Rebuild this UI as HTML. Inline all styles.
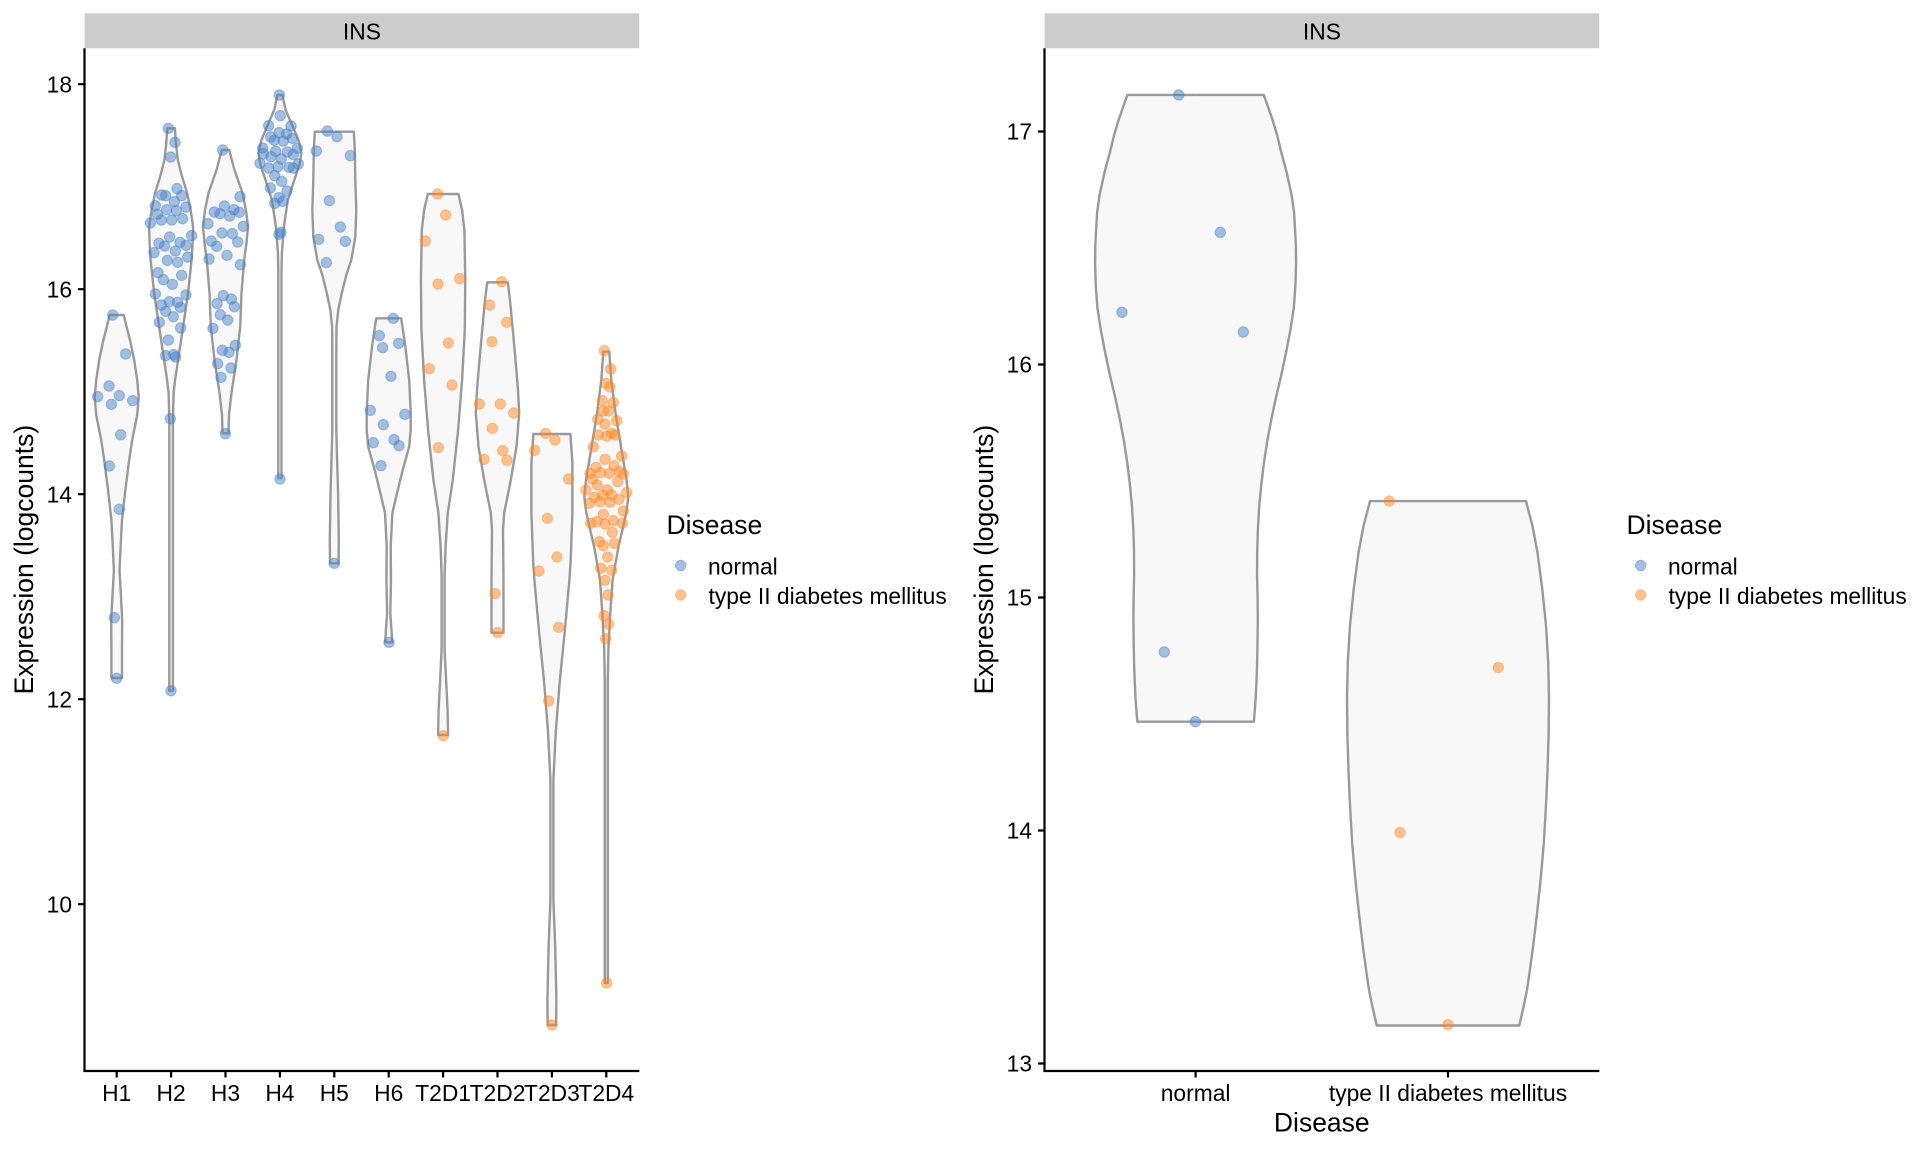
<!DOCTYPE html>
<html><head><meta charset="utf-8"><style>
html,body{margin:0;padding:0;background:#fff;}
svg{display:block;}
text{font-family:"Liberation Sans",Arial,sans-serif;fill:#000;}
.v{fill:#f8f8f8;stroke:#999999;stroke-width:2.4;stroke-linejoin:round;}
.bz circle{fill:rgb(74,130,200);fill-opacity:.5;stroke:rgb(74,130,200);stroke-opacity:.45;stroke-width:3.3;}
.oz circle{fill:rgb(255,135,35);fill-opacity:.5;stroke:rgb(255,135,35);stroke-opacity:.4;stroke-width:3.3;}
.b circle{fill:rgb(74,130,200);fill-opacity:.5;stroke:rgb(74,130,200);stroke-opacity:.45;stroke-width:1.1;}
.o circle{fill:rgb(255,135,35);fill-opacity:.5;stroke:rgb(255,135,35);stroke-opacity:.4;stroke-width:1.1;}
.ax{fill:none;stroke:#000;stroke-width:2.2;}
</style></head><body>
<svg width="1920" height="1152" viewBox="0 0 1920 1152" xmlns="http://www.w3.org/2000/svg">
<rect width="1920" height="1152" fill="#fff"/>

<!-- ===== LEFT PANEL ===== -->
<rect x="84.5" y="13.3" width="554.8" height="35" fill="#cccccc"/>
<text x="361.9" y="39.5" font-size="22.8" text-anchor="middle">INS</text>

<!-- violins -->
<g class="v" transform="translate(116.7,0)"><path id="v1" d="M0,315 L-7,315 L-10,327 L-14,343 L-17.5,360 L-20.5,380 L-22,397 L-20.5,415 L-15.5,440 L-12.5,460 L-8.3,493 L-5.3,520 L-4,545 L-2.8,570 L-4.2,595 L-5.5,620 L-5.3,650 L-5.3,678 L0,678"/><use href="#v1" transform="scale(-1,1)"/></g>
<g class="v" transform="translate(171.1,0)"><path id="v2" d="M0,128.3 L-3.8,128.3 L-5,145 L-6.7,160 L-10.5,175 L-16,193 L-19.5,210 L-22,226.7 L-21.5,243 L-20.5,260 L-17,293 L-12,326.7 L-7,360 L-4,380 L-2.5,393 L-1.8,420 L-1.8,690.7 L0,690.7"/><use href="#v2" transform="scale(-1,1)"/></g>
<g class="v" transform="translate(225.5,0)"><path id="v3" d="M0,150 L-3.7,150 L-9,170 L-17,193 L-20.5,210 L-22.5,226.7 L-21,243 L-18.7,260 L-16,293 L-14.7,326.7 L-11,360 L-6,393 L-3.5,415 L-3,433.3 L0,433.3"/><use href="#v3" transform="scale(-1,1)"/></g>
<g class="v" transform="translate(279.9,0)"><path id="v4" d="M0,95 L-2.5,95 L-5.7,110 L-13,126.7 L-18.5,140 L-21.5,153 L-19.5,165 L-15.5,176.7 L-8,200 L-4,226.7 L-2,253 L-1.6,270 L-1.6,478 L0,478"/><use href="#v4" transform="scale(-1,1)"/></g>
<g class="v" transform="translate(334.3,0)"><path id="v5" d="M0,131.7 L-19.5,131.7 L-20.5,150 L-21,180 L-22,210 L-21,236.7 L-17,260 L-12,275 L-7.5,293 L-4,310 L-2.2,326.7 L-2,350 L-2,430 L-2.8,460 L-3.8,493 L-4.5,540 L-4.3,563.3 L0,563.3"/><use href="#v5" transform="scale(-1,1)"/></g>
<g class="v" transform="translate(388.7,0)"><path id="v6" d="M0,318.3 L-12.5,318.3 L-16.7,346.7 L-20.5,380 L-22,413 L-22,430 L-20.5,446.7 L-14,470 L-7.5,496.7 L-3.7,513 L-2,546.7 L-2.3,580 L-1.6,613 L-2.8,630 L-3.5,642.3 L0,642.3"/><use href="#v6" transform="scale(-1,1)"/></g>
<g class="v" transform="translate(443.1,0)"><path id="v7" d="M0,194 L-15.3,194 L-19,210 L-21.3,230 L-22.2,280 L-21.7,330 L-19,380 L-15,430 L-9.7,480 L-4.7,513 L-2.5,546.7 L-1.5,575 L-1.5,650 L-3,680 L-4.5,710 L-5,735 L0,735"/><use href="#v7" transform="scale(-1,1)"/></g>
<g class="v" transform="translate(497.5,0)"><path id="v8" d="M0,282.3 L-10.3,282.3 L-12.5,300 L-15.3,330 L-18.3,363 L-20.5,390 L-21.7,413 L-19,446.7 L-13.3,480 L-6.7,513 L-5.5,530 L-5.7,546.7 L-6,580 L-6,613 L-6,632.7 L0,632.7"/><use href="#v8" transform="scale(-1,1)"/></g>
<g class="v" transform="translate(551.9,0)"><path id="v9" d="M0,434 L-18.5,434 L-20.5,463 L-20.5,513 L-18.8,560 L-17.5,580 L-13,630 L-8,680 L-4,730 L-1.5,780 L-1.5,900 L-2,913 L-3.3,946.7 L-4.5,1000 L-4.2,1025 L0,1025"/><use href="#v9" transform="scale(-1,1)"/></g>
<g class="v" transform="translate(606.3,0)"><path id="v10" d="M0,351.7 L-3,351.7 L-5,380 L-9.2,413 L-14.7,446.7 L-20.3,480 L-22,496.7 L-20,513 L-12.2,546.7 L-6.3,580 L-4,613 L-2.2,646.7 L-1.5,680 L-1.5,983 L0,983"/><use href="#v10" transform="scale(-1,1)"/></g>

<!-- points from zoom3 coords -->
<g class="bz" transform="translate(80,60) scale(0.333333)">
<circle cx="98" cy="765" r="15.6"/><circle cx="137" cy="882" r="15.6"/><circle cx="87" cy="978" r="15.6"/><circle cx="53" cy="1010" r="15.6"/><circle cx="118" cy="1007" r="15.6"/><circle cx="94" cy="1033" r="15.6"/><circle cx="158" cy="1022" r="15.6"/><circle cx="122" cy="1124" r="15.6"/><circle cx="88" cy="1218" r="15.6"/><circle cx="118" cy="1348" r="15.6"/>
<circle cx="265" cy="205" r="15.6"/><circle cx="285" cy="247" r="15.6"/><circle cx="272" cy="291" r="15.6"/><circle cx="291" cy="386" r="15.6"/><circle cx="245" cy="405" r="15.6"/><circle cx="257" cy="407" r="15.6"/><circle cx="305" cy="407" r="15.6"/><circle cx="283" cy="425" r="15.6"/><circle cx="226" cy="437" r="15.6"/><circle cx="318" cy="441" r="15.6"/><circle cx="260" cy="449" r="15.6"/><circle cx="289" cy="452" r="15.6"/><circle cx="232" cy="463" r="15.6"/><circle cx="244" cy="480" r="15.6"/><circle cx="275" cy="480" r="15.6"/><circle cx="308" cy="476" r="15.6"/><circle cx="211" cy="489" r="15.6"/><circle cx="335" cy="527" r="15.6"/><circle cx="269" cy="531" r="15.6"/><circle cx="237" cy="550" r="15.6"/><circle cx="300" cy="547" r="15.6"/><circle cx="254" cy="558" r="15.6"/><circle cx="318" cy="556" r="15.6"/><circle cx="222" cy="578" r="15.6"/><circle cx="286" cy="573" r="15.6"/><circle cx="323" cy="591" r="15.6"/><circle cx="262" cy="601" r="15.6"/><circle cx="293" cy="607" r="15.6"/><circle cx="234" cy="638" r="15.6"/><circle cx="305" cy="646" r="15.6"/><circle cx="250" cy="659" r="15.6"/><circle cx="277" cy="673" r="15.6"/><circle cx="226" cy="702" r="15.6"/><circle cx="318" cy="705" r="15.6"/><circle cx="244" cy="735" r="15.6"/><circle cx="268" cy="725" r="15.6"/><circle cx="293" cy="727" r="15.6"/><circle cx="257" cy="754" r="15.6"/><circle cx="301" cy="742" r="15.6"/><circle cx="280" cy="770" r="15.6"/><circle cx="238" cy="787" r="15.6"/><circle cx="302" cy="804" r="15.6"/><circle cx="265" cy="840" r="15.6"/><circle cx="257" cy="887" r="15.6"/><circle cx="281" cy="884" r="15.6"/><circle cx="287" cy="891" r="15.6"/><circle cx="271" cy="1076" r="15.6"/>
<circle cx="428" cy="270" r="15.6"/><circle cx="480" cy="410" r="15.6"/><circle cx="403" cy="456" r="15.6"/><circle cx="433" cy="438" r="15.6"/><circle cx="462" cy="449" r="15.6"/><circle cx="420" cy="461" r="15.6"/><circle cx="449" cy="468" r="15.6"/><circle cx="478" cy="457" r="15.6"/><circle cx="384" cy="491" r="15.6"/><circle cx="490" cy="499" r="15.6"/><circle cx="426" cy="519" r="15.6"/><circle cx="457" cy="521" r="15.6"/><circle cx="394" cy="543" r="15.6"/><circle cx="410" cy="559" r="15.6"/><circle cx="473" cy="546" r="15.6"/><circle cx="441" cy="586" r="15.6"/><circle cx="387" cy="597" r="15.6"/><circle cx="481" cy="614" r="15.6"/><circle cx="430" cy="707" r="15.6"/><circle cx="411" cy="731" r="15.6"/><circle cx="454" cy="717" r="15.6"/><circle cx="463" cy="740" r="15.6"/><circle cx="421" cy="764" r="15.6"/><circle cx="443" cy="780" r="15.6"/><circle cx="399" cy="805" r="15.6"/><circle cx="427" cy="871" r="15.6"/><circle cx="447" cy="877" r="15.6"/><circle cx="466" cy="856" r="15.6"/><circle cx="413" cy="911" r="15.6"/><circle cx="453" cy="924" r="15.6"/><circle cx="423" cy="952" r="15.6"/><circle cx="436" cy="1121" r="15.6"/>
<circle cx="598" cy="105" r="15.6"/><circle cx="601" cy="167" r="15.6"/><circle cx="566" cy="197" r="15.6"/><circle cx="633" cy="198" r="15.6"/><circle cx="572" cy="231" r="15.6"/><circle cx="597" cy="218" r="15.6"/><circle cx="620" cy="222" r="15.6"/><circle cx="583" cy="241" r="15.6"/><circle cx="610" cy="243" r="15.6"/><circle cx="637" cy="235" r="15.6"/><circle cx="548" cy="264" r="15.6"/><circle cx="587" cy="274" r="15.6"/><circle cx="622" cy="276" r="15.6"/><circle cx="652" cy="265" r="15.6"/><circle cx="550" cy="281" r="15.6"/><circle cx="573" cy="290" r="15.6"/><circle cx="604" cy="297" r="15.6"/><circle cx="640" cy="284" r="15.6"/><circle cx="540" cy="310" r="15.6"/><circle cx="566" cy="324" r="15.6"/><circle cx="594" cy="320" r="15.6"/><circle cx="627" cy="322" r="15.6"/><circle cx="655" cy="312" r="15.6"/><circle cx="640" cy="324" r="15.6"/><circle cx="584" cy="347" r="15.6"/><circle cx="605" cy="364" r="15.6"/><circle cx="571" cy="384" r="15.6"/><circle cx="621" cy="393" r="15.6"/><circle cx="597" cy="413" r="15.6"/><circle cx="584" cy="430" r="15.6"/><circle cx="608" cy="424" r="15.6"/><circle cx="597" cy="523" r="15.6"/><circle cx="603" cy="517" r="15.6"/><circle cx="600" cy="1257" r="15.6"/>
<circle cx="742" cy="213" r="15.6"/><circle cx="771" cy="230" r="15.6"/><circle cx="709" cy="273" r="15.6"/><circle cx="811" cy="287" r="15.6"/><circle cx="748" cy="422" r="15.6"/><circle cx="781" cy="501" r="15.6"/><circle cx="716" cy="538" r="15.6"/><circle cx="796" cy="544" r="15.6"/><circle cx="739" cy="608" r="15.6"/>
</g>
<g class="bz" transform="translate(80,520) scale(0.333333)">
<circle cx="103" cy="293" r="15.6"/><circle cx="110" cy="475" r="15.6"/><circle cx="273" cy="512" r="15.6"/><circle cx="763" cy="130" r="15.6"/>
</g>
<!-- zoom5 coords -->
<g class="bz" transform="translate(360,180) scale(0.333333)">
<circle cx="100" cy="415" r="15.6"/><circle cx="58" cy="467" r="15.6"/><circle cx="68" cy="503" r="15.6"/><circle cx="116" cy="490" r="15.6"/><circle cx="93" cy="589" r="15.6"/><circle cx="31" cy="691" r="15.6"/><circle cx="135" cy="703" r="15.6"/><circle cx="70" cy="734" r="15.6"/><circle cx="40" cy="788" r="15.6"/><circle cx="102" cy="779" r="15.6"/><circle cx="117" cy="797" r="15.6"/><circle cx="63" cy="857" r="15.6"/>
</g>
<g class="bz" transform="translate(360,580) scale(0.333333)">
<circle cx="87" cy="187" r="15.6"/>
</g>
<g class="oz" transform="translate(360,180) scale(0.333333)">
<circle cx="233" cy="42" r="15.6"/><circle cx="257" cy="105" r="15.6"/><circle cx="196" cy="183" r="15.6"/><circle cx="299" cy="296" r="15.6"/><circle cx="234" cy="312" r="15.6"/><circle cx="265" cy="489" r="15.6"/><circle cx="208" cy="566" r="15.6"/><circle cx="276" cy="615" r="15.6"/><circle cx="235" cy="803" r="15.6"/>
<circle cx="425" cy="305" r="15.6"/><circle cx="389" cy="375" r="15.6"/><circle cx="440" cy="427" r="15.6"/><circle cx="396" cy="485" r="15.6"/><circle cx="358" cy="672" r="15.6"/><circle cx="421" cy="672" r="15.6"/><circle cx="461" cy="699" r="15.6"/><circle cx="397" cy="745" r="15.6"/><circle cx="428" cy="812" r="15.6"/><circle cx="372" cy="838" r="15.6"/><circle cx="441" cy="841" r="15.6"/>
<circle cx="557" cy="760" r="15.6"/><circle cx="585" cy="780" r="15.6"/><circle cx="524" cy="811" r="15.6"/><circle cx="626" cy="897" r="15.6"/><circle cx="562" cy="1015" r="15.6"/><circle cx="591" cy="1131" r="15.6"/><circle cx="537" cy="1173" r="15.6"/>
<circle cx="733" cy="512" r="15.6"/><circle cx="752" cy="567" r="15.6"/><circle cx="738" cy="610" r="15.6"/><circle cx="750" cy="621" r="15.6"/><circle cx="727" cy="662" r="15.6"/><circle cx="760" cy="668" r="15.6"/><circle cx="730" cy="693" r="15.6"/><circle cx="745" cy="693" r="15.6"/><circle cx="713" cy="718" r="15.6"/><circle cx="770" cy="722" r="15.6"/><circle cx="735" cy="732" r="15.6"/><circle cx="715" cy="765" r="15.6"/><circle cx="740" cy="768" r="15.6"/><circle cx="755" cy="760" r="15.6"/><circle cx="765" cy="765" r="15.6"/><circle cx="700" cy="800" r="15.6"/><circle cx="785" cy="828" r="15.6"/><circle cx="735" cy="838" r="15.6"/><circle cx="708" cy="862" r="15.6"/><circle cx="762" cy="857" r="15.6"/><circle cx="690" cy="880" r="15.6"/><circle cx="722" cy="878" r="15.6"/><circle cx="748" cy="880" r="15.6"/><circle cx="778" cy="875" r="15.6"/><circle cx="790" cy="882" r="15.6"/><circle cx="697" cy="897" r="15.6"/><circle cx="712" cy="915" r="15.6"/><circle cx="742" cy="930" r="15.6"/><circle cx="773" cy="905" r="15.6"/><circle cx="678" cy="930" r="15.6"/><circle cx="703" cy="952" r="15.6"/><circle cx="728" cy="945" r="15.6"/><circle cx="755" cy="945" r="15.6"/><circle cx="777" cy="958" r="15.6"/><circle cx="800" cy="938" r="15.6"/><circle cx="688" cy="970" r="15.6"/><circle cx="720" cy="965" r="15.6"/><circle cx="750" cy="967" r="15.6"/><circle cx="790" cy="993" r="15.6"/><circle cx="730" cy="1003" r="15.6"/><circle cx="692" cy="1030" r="15.6"/><circle cx="710" cy="1025" r="15.6"/><circle cx="735" cy="1032" r="15.6"/><circle cx="760" cy="1022" r="15.6"/><circle cx="787" cy="1030" r="15.6"/><circle cx="757" cy="1057" r="15.6"/><circle cx="718" cy="1085" r="15.6"/><circle cx="730" cy="1097" r="15.6"/><circle cx="763" cy="1090" r="15.6"/><circle cx="743" cy="1131" r="15.6"/><circle cx="722" cy="1165" r="15.6"/><circle cx="755" cy="1171" r="15.6"/><circle cx="735" cy="1201" r="15.6"/>
</g>
<g class="oz" transform="translate(360,580) scale(0.333333)">
<circle cx="250" cy="467" r="15.6"/><circle cx="405" cy="41" r="15.6"/><circle cx="413" cy="158" r="15.6"/><circle cx="596" cy="142" r="15.6"/><circle cx="566" cy="363" r="15.6"/><circle cx="744" cy="45" r="15.6"/><circle cx="732" cy="107" r="15.6"/><circle cx="746" cy="132" r="15.6"/><circle cx="737" cy="176" r="15.6"/><circle cx="740" cy="1209" r="15.6"/><circle cx="576" cy="1335" r="15.6"/>
</g>

<!-- left axes -->
<path class="ax" d="M84.5,48.3 V1071 H639.3"/>
<path class="ax" d="M78,84.2h6.5M78,289.2h6.5M78,494.2h6.5M78,699.2h6.5M78,904.2h6.5"/>
<path class="ax" d="M116.7,1071v6.5M171.1,1071v6.5M225.5,1071v6.5M279.9,1071v6.5M334.3,1071v6.5M388.7,1071v6.5M443.1,1071v6.5M497.5,1071v6.5M551.9,1071v6.5M606.3,1071v6.5"/>
<g font-size="22.8" text-anchor="end">
<text x="72" y="92.4">18</text><text x="72" y="297.4">16</text><text x="72" y="502.4">14</text><text x="72" y="707.4">12</text><text x="72" y="912.4">10</text>
</g>
<g font-size="22.8" text-anchor="middle">
<text x="116.7" y="1101">H1</text><text x="171.1" y="1101">H2</text><text x="225.5" y="1101">H3</text><text x="279.9" y="1101">H4</text><text x="334.3" y="1101">H5</text><text x="388.7" y="1101">H6</text><text x="443.1" y="1101">T2D1</text><text x="497.5" y="1101">T2D2</text><text x="551.9" y="1101">T2D3</text><text x="606.3" y="1101">T2D4</text>
</g>
<text transform="translate(32.8,559.6) rotate(-90)" font-size="26.5" text-anchor="middle">Expression (logcounts)</text>

<!-- left legend -->
<text x="666.5" y="533.8" font-size="26.5">Disease</text>
<g class="b"><circle cx="680.7" cy="565.5" r="5.2"/></g>
<g class="o"><circle cx="680.7" cy="595" r="5.2"/></g>
<text x="708" y="574.3" font-size="22.8">normal</text>
<text x="708.5" y="603.8" font-size="22.8">type II diabetes mellitus</text>

<!-- ===== RIGHT PANEL ===== -->
<rect x="1044.5" y="13.3" width="554.8" height="35" fill="#cccccc"/>
<text x="1321.9" y="39.5" font-size="22.8" text-anchor="middle">INS</text>

<g class="v" transform="translate(1195.6,0)"><path id="r1" d="M0,94.9 L-68.2,94.9 L-72.5,107 L-77,120 L-81.5,135 L-85.5,151.6 L-91,172 L-96.2,196 L-98.5,213 L-99.5,230 L-100.3,246 L-100.5,263 L-99.8,286 L-98.2,308 L-94.8,330 L-90.5,352.5 L-85.7,375 L-80.5,397 L-75.8,419 L-71.5,441.8 L-68.2,464 L-65.5,486.4 L-63.5,508 L-62.2,531 L-61.6,553 L-61.5,575.7 L-62,598 L-62.2,620 L-61.9,643 L-61.5,665 L-60.8,683 L-60,700 L-58.3,721.7 L0,721.7"/><use href="#r1" transform="scale(-1,1)"/></g>
<g class="v" transform="translate(1448,0)"><path id="r2" d="M0,501.1 L-78,501.1 L-84.5,526 L-89.5,552.7 L-94.3,589 L-98,625.5 L-100.2,662 L-101,698 L-100.6,735 L-99.5,771 L-97.9,807 L-95.8,843.6 L-92.6,880 L-88.7,916.4 L-84.3,953 L-79.2,989 L-75.5,1007 L-71.3,1025.5 L0,1025.5"/><use href="#r2" transform="scale(-1,1)"/></g>

<g class="b">
<circle cx="1178.7" cy="94.9" r="5.2"/><circle cx="1220.3" cy="232.4" r="5.2"/><circle cx="1122" cy="312.3" r="5.2"/><circle cx="1243.3" cy="332" r="5.2"/><circle cx="1164.3" cy="652" r="5.2"/><circle cx="1195.3" cy="721.7" r="5.2"/>
</g>
<g class="o">
<circle cx="1389.3" cy="501.1" r="5.2"/><circle cx="1498.3" cy="667.6" r="5.2"/><circle cx="1400" cy="832.4" r="5.2"/><circle cx="1448" cy="1024.7" r="5.2"/>
</g>

<path class="ax" d="M1044.5,48.3 V1071 H1599.3"/>
<path class="ax" d="M1038,131.5h6.5M1038,364.5h6.5M1038,597.5h6.5M1038,830.5h6.5M1038,1063.5h6.5"/>
<path class="ax" d="M1195.6,1071v6.5M1448,1071v6.5"/>
<g font-size="22.8" text-anchor="end">
<text x="1032" y="139.7">17</text><text x="1032" y="372.7">16</text><text x="1032" y="605.7">15</text><text x="1032" y="838.7">14</text><text x="1032" y="1071.7">13</text>
</g>
<g font-size="22.8" text-anchor="middle">
<text x="1195.6" y="1101">normal</text><text x="1448" y="1101">type II diabetes mellitus</text>
</g>
<text x="1321.8" y="1131.5" font-size="26.5" text-anchor="middle">Disease</text>
<text transform="translate(992.8,559.6) rotate(-90)" font-size="26.5" text-anchor="middle">Expression (logcounts)</text>

<!-- right legend -->
<text x="1626.5" y="533.8" font-size="26.5">Disease</text>
<g class="b"><circle cx="1640.7" cy="565.5" r="5.2"/></g>
<g class="o"><circle cx="1640.7" cy="595" r="5.2"/></g>
<text x="1668" y="574.3" font-size="22.8">normal</text>
<text x="1668.5" y="603.8" font-size="22.8">type II diabetes mellitus</text>
</svg>
</body></html>
